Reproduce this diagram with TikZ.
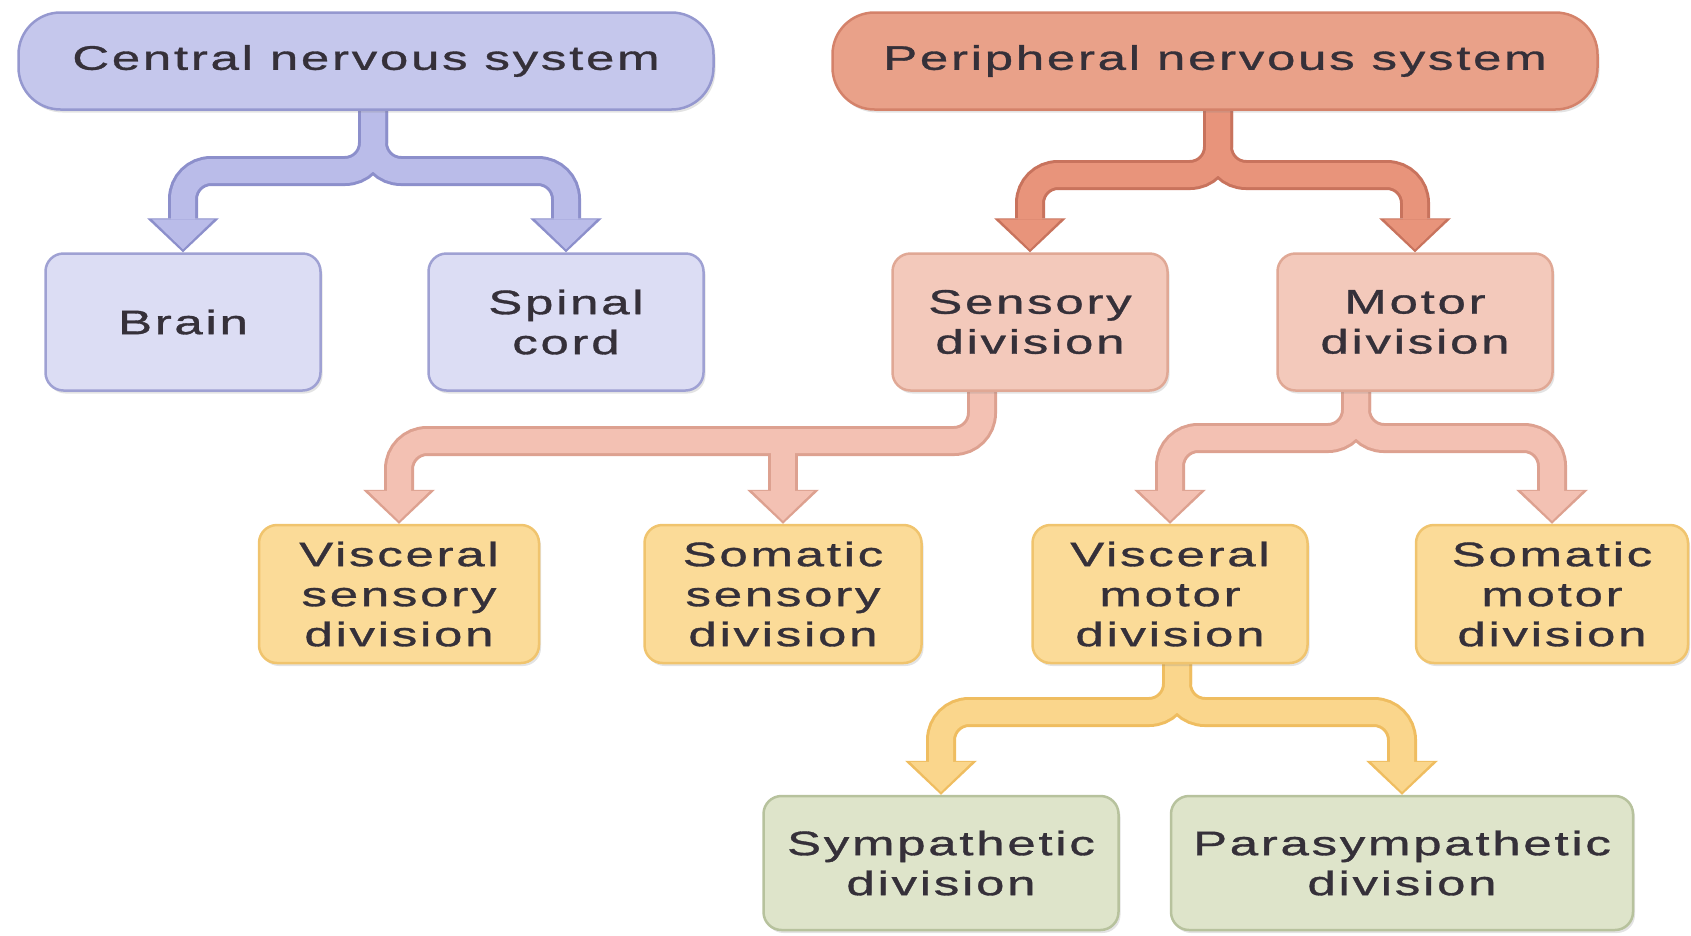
\documentclass[tikz,border=0pt]{standalone}
\usepackage{fontspec}
\setmainfont{Liberation Sans}
\newfontfamily\labfont[FakeStretch=1.5,LetterSpace=8,FakeBold=1]{Liberation Sans}
\usetikzlibrary{arrows.meta,shadows,calc}
\pgfdeclarelayer{bg}
\pgfsetlayers{bg,main}
\definecolor{cnsfill}{HTML}{C5C7EC}
\definecolor{cnsline}{HTML}{9598CF}
\definecolor{cnscfill}{HTML}{DCDDF4}
\definecolor{cnscline}{HTML}{9FA1D3}
\definecolor{cnsarr}{HTML}{BABCE9}
\definecolor{cnsarrl}{HTML}{8C8FCB}
\definecolor{pnsfill}{HTML}{E9A189}
\definecolor{pnsline}{HTML}{D4826A}
\definecolor{pnsarr}{HTML}{E8947B}
\definecolor{pnsarrl}{HTML}{C8735D}
\definecolor{pnscfill}{HTML}{F3C9BB}
\definecolor{pnscline}{HTML}{E0A895}
\definecolor{senarr}{HTML}{F3C1B3}
\definecolor{senarrl}{HTML}{DDA190}
\definecolor{yelfill}{HTML}{FBDB98}
\definecolor{yelline}{HTML}{F0C46E}
\definecolor{yelarr}{HTML}{FAD68C}
\definecolor{yelarrl}{HTML}{EFBD60}
\definecolor{grnfill}{HTML}{DEE4CA}
\definecolor{grnline}{HTML}{B7C29D}
\definecolor{txt}{HTML}{353039}
\begin{document}
\begin{tikzpicture}[x=1pt,y=-1pt,
  box/.style={line width=2.5pt, rounded corners=18pt, inner sep=0pt, align=center,
    font=\labfont\fontsize{34}{40}\selectfont, text=txt,
    drop shadow={shadow xshift=2pt,shadow yshift=-3pt,opacity=0.22}},
  topbox/.style={box, rounded corners=42pt, minimum width=#1, minimum height=97pt},
  midbox/.style={box, minimum width=275pt, minimum height=137pt},
  lowbox/.style={box, minimum width=#1, minimum height=134pt},
  arrline/.style={line width=30pt, draw=#1, rounded corners=28pt,
    -{Triangle[width=72pt,length=34pt,line width=0pt]}},
  arrfill/.style={line width=24pt, draw=#1, rounded corners=28pt, shorten >=3pt,
    -{Triangle[width=62pt,length=30pt,line width=0pt]}},
]
\useasboundingbox (0,0) rectangle (1691,935);

% boxes
\node[topbox=695pt, fill=cnsfill, draw=cnsline] (cns) at (366,61) {Central nervous system};
\node[topbox=765pt, fill=pnsfill, draw=pnsline] (pns) at (1215,61) {Peripheral nervous system};
\node[midbox, fill=cnscfill, draw=cnscline] (brain) at (183,322) {Brain};
\node[midbox, fill=cnscfill, draw=cnscline] (spinal) at (566,322) {Spinal\\cord};
\node[midbox, fill=pnscfill, draw=pnscline] (sens) at (1030,322) {Sensory\\division};
\node[midbox, fill=pnscfill, draw=pnscline] (mot) at (1415,322) {Motor\\division};
\node[midbox, fill=yelfill, draw=yelline, minimum width=280pt, minimum height=138pt] (vs) at (399,594) {Visceral\\sensory\\division};
\node[midbox, fill=yelfill, draw=yelline, minimum width=277pt, minimum height=138pt] (ss) at (783,594) {Somatic\\sensory\\division};
\node[midbox, fill=yelfill, draw=yelline, minimum width=275pt, minimum height=138pt] (vm) at (1170,594) {Visceral\\motor\\division};
\node[midbox, fill=yelfill, draw=yelline, minimum width=272pt, minimum height=138pt] (sm) at (1552,594) {Somatic\\motor\\division};
\node[lowbox=355pt, fill=grnfill, draw=grnline] (symp) at (941,863) {Sympathetic\\division};
\node[lowbox=462pt, fill=grnfill, draw=grnline] (para) at (1402,863) {Parasympathetic\\division};

% connector junction points
\coordinate (cnsbar) at (0,171);
\coordinate (pnsbar) at (0,175);
\coordinate (senbar) at (0,441);
\coordinate (motbar) at (0,438);
\coordinate (vmbar) at (0,712);

\begin{pgfonlayer}{bg}
% CNS
\foreach \s/\c in {arrline/cnsarrl, arrfill/cnsarr}{
  \draw[\s=\c] ($(cns.south)+(7,-12)$) |- (brain.north |- cnsbar) -- (brain.north);
  \draw[\s=\c] ($(cns.south)+(7,-12)$) |- (spinal.north |- cnsbar) -- (spinal.north);
}
% PNS
\foreach \s/\c in {arrline/pnsarrl, arrfill/pnsarr}{
  \draw[\s=\c] ($(pns.south)+(3,-12)$) |- (sens.north |- pnsbar) -- (sens.north);
  \draw[\s=\c] ($(pns.south)+(3,-12)$) |- (mot.north |- pnsbar) -- (mot.north);
}
% Sensory division
\foreach \s/\c in {arrline/senarrl, arrfill/senarr}{
  \draw[\s=\c] ($(sens.south)+(-48,-12)$) |- (vs.north |- senbar) -- (vs.north);
  \draw[\s=\c] (ss.north |- senbar) -- (ss.north);
}
% Motor division
\foreach \s/\c in {arrline/senarrl, arrfill/senarr}{
  \draw[\s=\c] ($(mot.south)+(-59,-12)$) |- (vm.north |- motbar) -- (vm.north);
  \draw[\s=\c] ($(mot.south)+(-59,-12)$) |- (sm.north |- motbar) -- (sm.north);
}
% Visceral motor division
\foreach \s/\c in {arrline/yelarrl, arrfill/yelarr}{
  \draw[\s=\c] ($(vm.south)+(7,-12)$) |- (symp.north |- vmbar) -- (symp.north);
  \draw[\s=\c] ($(vm.south)+(7,-12)$) |- (para.north |- vmbar) -- (para.north);
}
\end{pgfonlayer}
\end{tikzpicture}
\end{document}
